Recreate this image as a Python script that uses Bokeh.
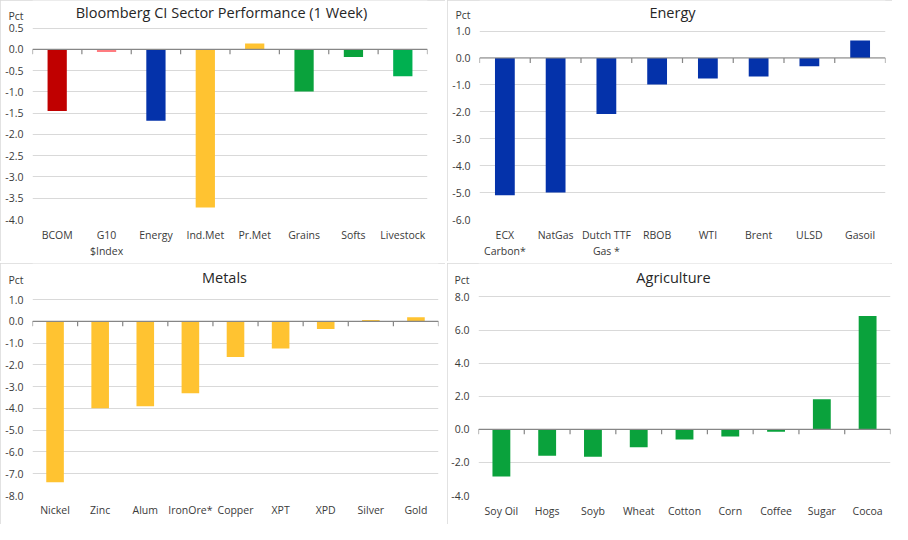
from bokeh.plotting import figure
from bokeh.models import (FactorRange, Range1d, FixedTicker, Label, Span,
                          NumeralTickFormatter, ColumnDataSource)
from bokeh.layouts import column, row
from bokeh.embed import file_html
from bokeh.resources import INLINE

# ---------------- data ----------------
sector_title = "Bloomberg CI Sector Performance (1 Week)"
sector_cats = ["BCOM", "G10\n$Index", "Energy", "Ind.Met", "Pr.Met", "Grains", "Softs", "Livestock"]
sector_vals = [-1.45, -0.06, -1.68, -3.72, 0.14, -0.99, -0.18, -0.63]
sector_colors = ["#C00000", "#FF7C80", "#0432AA", "#FFC331", "#FFC331", "#0AA23C", "#0AA23C", "#00B050"]
sector_yticks = [-4.0, -3.5, -3.0, -2.5, -2.0, -1.5, -1.0, -0.5, 0.0, 0.5]

energy_title = "Energy"
energy_cats = ["ECX\nCarbon*", "NatGas", "Dutch TTF\nGas *", "RBOB", "WTI", "Brent", "ULSD", "Gasoil"]
energy_vals = [-5.10, -5.00, -2.08, -0.98, -0.76, -0.69, -0.31, 0.65]
energy_colors = ["#0432AA"] * 8
energy_yticks = [-6.0, -5.0, -4.0, -3.0, -2.0, -1.0, 0.0, 1.0]

metals_title = "Metals"
metals_cats = ["Nickel", "Zinc", "Alum", "IronOre*", "Copper", "XPT", "XPD", "Silver", "Gold"]
metals_vals = [-7.39, -3.99, -3.90, -3.31, -1.64, -1.25, -0.36, 0.06, 0.19]
metals_colors = ["#FFC331"] * 9
metals_yticks = [-8.0, -7.0, -6.0, -5.0, -4.0, -3.0, -2.0, -1.0, 0.0, 1.0]

agri_title = "Agriculture"
agri_cats = ["Soy Oil", "Hogs", "Soyb", "Wheat", "Cotton", "Corn", "Coffee", "Sugar", "Cocoa"]
agri_vals = [-2.85, -1.60, -1.66, -1.08, -0.62, -0.44, -0.15, 1.81, 6.84]
agri_colors = ["#0AA23C"] * 9
agri_yticks = [-4.0, -2.0, 0.0, 2.0, 4.0, 6.0, 8.0]

unit_label = "Pct"

# ---------------- styling ----------------
W, H = 445, 261
FONT = "Open Sans"
TXT = "#3A3A3A"
AXIS_GREY = "#868686"
TICK_PX = 5


def make_panel(title, cats, vals, colors, yticks, L, R, T, B, title_x, title_y, pct_y, standoff):
    ymin, ymax = yticks[0], yticks[-1]
    n = len(cats)
    frame_h = H - B              # frame reaches the top of the panel
    frame_w = W - L - R
    k = (frame_h - T) / (ymax - ymin)          # pixels per unit
    y_end = ymax + T / k
    y_title = ymax + (T - title_y) / k
    y_pct = ymax + (T - pct_y) / k

    p = figure(width=W, height=H, x_range=FactorRange(factors=cats),
               y_range=Range1d(ymin, y_end),
               output_backend="svg", toolbar_location=None,
               min_border_left=L, min_border_right=R,
               min_border_top=0, min_border_bottom=B)
    p.styles = {"outline": "1px solid #D9D9D9", "outline-offset": "-1px"}
    p.outline_line_color = None
    p.background_fill_color = "white"
    p.border_fill_color = "white"

    src = ColumnDataSource(dict(cat=cats, val=vals, color=colors))
    p.vbar(x="cat", top="val", bottom=0, width=0.39, fill_color="color",
           line_color=None, source=src)

    # category labels at bottom
    xa = p.xaxis[0]
    xa.axis_line_color = None
    xa.major_tick_line_color = None
    xa.major_tick_out = 0
    xa.major_tick_in = 0
    xa.minor_tick_line_color = None
    xa.major_label_text_font = FONT
    xa.major_label_text_font_size = "10.5px"
    xa.major_label_text_color = TXT
    xa.major_label_standoff = standoff
    p.xgrid.grid_line_color = None

    # y axis (unit label shown as top label of the value axis)
    ya = p.yaxis[0]
    ya.ticker = FixedTicker(ticks=yticks + [y_pct])
    ya.formatter = NumeralTickFormatter(format="0.0")
    ya.major_label_overrides = {y_pct: unit_label}
    ya.axis_line_color = None
    ya.major_tick_line_color = None
    ya.major_tick_out = 0
    ya.major_tick_in = 0
    ya.minor_tick_line_color = None
    ya.major_label_text_font = FONT
    ya.major_label_text_font_size = "10.5px"
    ya.major_label_text_color = TXT
    ya.major_label_standoff = 9
    p.ygrid.ticker = FixedTicker(ticks=yticks)
    p.ygrid.grid_line_color = "#D9D9D9"
    p.ygrid.grid_line_width = 1

    # zero line with tick marks at category boundaries
    p.add_layout(Span(location=0, dimension="width", line_color=AXIS_GREY, line_width=1.2))
    tick_len = TICK_PX / k
    bounds = [(c, -0.5) for c in cats] + [(cats[-1], 0.5)]
    p.segment(x0=bounds, y0=[0] * len(bounds), x1=bounds, y1=[-tick_len] * len(bounds),
              line_color=AXIS_GREY, line_width=1.2)

    # chart title
    p.add_layout(Label(x=(title_x - L) / frame_w * n, y=y_title, text=title,
                       text_align="center", text_baseline="middle", text_font=FONT,
                       text_font_size="14.5px", text_color="#262626"))
    return p


p1 = make_panel(sector_title, sector_cats, sector_vals, sector_colors, sector_yticks,
                32, 18, 28, 39, 221, 12.5, 15.6, 8)
p2 = make_panel(energy_title, energy_cats, energy_vals, energy_colors, energy_yticks,
                32, 7, 31, 39, 225, 12.5, 15, 8)
p3 = make_panel(metals_title, metals_cats, metals_vals, metals_colors, metals_yticks,
                32, 7, 36, 29, 224, 14.2, 16.5, 7)
p4 = make_panel(agri_title, agri_cats, agri_vals, agri_colors, agri_yticks,
                31, 2, 34, 25, 226, 14.2, 16.5, 8)

layout = column(row(p1, p2, spacing=2), row(p3, p4, spacing=2), spacing=2)

open("out.html", "w").write(file_html(layout, INLINE))
